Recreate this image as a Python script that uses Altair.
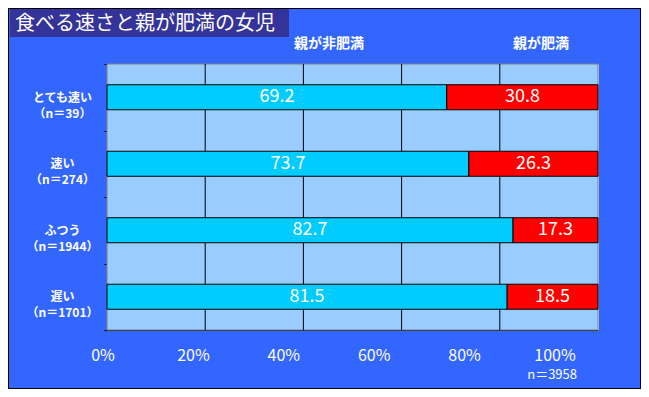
import altair as alt
import pandas as pd

categories = ["とても速い", "速い", "ふつう", "遅い"]
counts = [39, 274, 1944, 1701]
non_obese = [69.2, 73.7, 82.7, 81.5]
obese = [30.8, 26.3, 17.3, 18.5]
series = ["親が非肥満", "親が肥満"]
tick_values = [0, 20, 40, 60, 80, 100]
tick_labels = ["0%", "20%", "40%", "60%", "80%", "100%"]
title_text = "食べる速さと親が肥満の女児"
total_note = "n＝3958"

FONT = "Noto Sans CJK JP"

rows = []
cat_order = []
for c, n, a, b in zip(categories, counts, non_obese, obese):
    label = f"{c}\n（n＝{n}）"
    cat_order.append(label)
    rows.append({"cat": label, "series": series[0], "order": 0, "value": a})
    rows.append({"cat": label, "series": series[1], "order": 1, "value": b})
df = pd.DataFrame(rows)

xscale = alt.Scale(domain=[0, 100], nice=False, zero=True)
yaxis = alt.Axis(
    title=None,
    labelExpr="split(datum.label, '\\n')",
    labelColor="white",
    labelFontSize=12,
    labelFontWeight="bold",
    labelAlign="center",
    labelBaseline="middle",
    labelPadding=42,
    labelLineHeight=16,
    labelOverlap=False,
    labelBound=False,
    tickBand="extent",
    tickColor="black",
    tickSize=3,
    domainColor="black",
    grid=False,
)
yscale = alt.Scale(paddingInner=0, paddingOuter=0)

plot_bg = alt.Chart(pd.DataFrame({"t": [""]})).mark_rect(
    fill="#99CCFF", stroke="#808080", strokeWidth=1
).encode(x=alt.value(0), x2=alt.value("width"), y=alt.value(0), y2=alt.value("height"))

grid_df = pd.DataFrame({"v": tick_values[1:-1]})
grid = alt.Chart(grid_df).mark_rule(color="black", strokeWidth=1).encode(
    x=alt.X("v:Q", scale=xscale, axis=None),
    y=alt.value(0),
    y2=alt.value("height"),
)

bars = alt.Chart(df).mark_bar(
    height=alt.RelativeBandSize(0.376), stroke="black", strokeWidth=1
).encode(
    x=alt.X(
        "value:Q",
        stack="zero",
        scale=xscale,
        axis=alt.Axis(
            values=tick_values,
            labels=False,
            ticks=False,
            title=None,
            grid=False,
            domainColor="black",
        ),
    ),
    y=alt.Y("cat:N", sort=cat_order, scale=yscale, axis=yaxis),
    color=alt.Color(
        "series:N",
        scale=alt.Scale(domain=series, range=["#00CCFF", "#FF0000"]),
        legend=None,
    ),
    order=alt.Order("order:Q"),
)

labels = alt.Chart(df).transform_stack(
    stack="value", groupby=["cat"], as_=["x0", "x1"], sort=[alt.SortField("order")]
).transform_calculate(
    mid="(datum.x0 + datum.x1) / 2"
).mark_text(color="white", fontSize=18, baseline="middle", align="center").encode(
    x=alt.X("mid:Q", scale=xscale, axis=None),
    y=alt.Y("cat:N", sort=cat_order, scale=yscale, axis=yaxis),
    text=alt.Text("value:Q", format=".1f"),
)

ticks_df = pd.DataFrame({"v": tick_values, "t": tick_labels})
tick_text = alt.Chart(ticks_df).mark_text(
    color="white", fontSize=16, baseline="middle", align="center"
).encode(
    x=alt.X("v:Q", scale=alt.Scale(domain=[0, 100], range=[-4, 448], nice=False), axis=None),
    y=alt.value(292),
    text="t:N",
)

note = alt.Chart(pd.DataFrame({"t": [total_note]})).mark_text(
    color="white", fontSize=13, align="right", baseline="middle"
).encode(x=alt.value(470), y=alt.value(311), text="t:N")

head1 = alt.Chart(pd.DataFrame({"t": [series[0]]})).mark_text(
    color="white", fontSize=14, fontWeight="bold", align="center", baseline="middle"
).encode(x=alt.value(222), y=alt.value(-20), text="t:N")
head2 = alt.Chart(pd.DataFrame({"t": [series[1]]})).mark_text(
    color="white", fontSize=14, fontWeight="bold", align="center", baseline="middle"
).encode(x=alt.value(434), y=alt.value(-20), text="t:N")

title_box = alt.Chart(pd.DataFrame({"t": [title_text]})).mark_rect(fill="#333399").encode(
    x=alt.value(-97), x2=alt.value(182), y=alt.value(-56), y2=alt.value(-27)
)
title = alt.Chart(pd.DataFrame({"t": [title_text]})).mark_text(
    color="white", fontSize=20, align="left", baseline="middle"
).encode(x=alt.value(-92), y=alt.value(-40), text="t:N")

border = alt.Chart(pd.DataFrame({"t": [""]})).mark_rect(
    fillOpacity=0, stroke="black", strokeWidth=2
).encode(x=alt.value(-99), x2=alt.value(534), y=alt.value(-56), y2=alt.value(325))

chart = alt.layer(
    plot_bg, grid, bars, labels, tick_text, note, head1, head2, title_box, title, border
).resolve_scale(x="independent").properties(
    width=491,
    height=266,
    autosize=alt.AutoSizeParams(type="none"),
    padding={"left": 99, "top": 56, "right": 43, "bottom": 59},
    background="#3366FF",
).configure_view(
    stroke=None
).configure(font=FONT)

chart.save("out.html", embed_options={"renderer": "svg", "actions": False})
